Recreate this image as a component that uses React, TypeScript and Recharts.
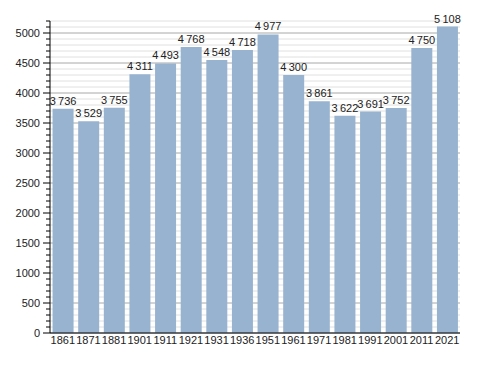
import React from 'react';
import { BarChart, Bar, XAxis, YAxis, CartesianGrid, LabelList } from 'recharts';

const years = ['1861', '1871', '1881', '1901', '1911', '1921', '1931', '1936', '1951', '1961', '1971', '1981', '1991', '2001', '2011', '2021'];
const population = [3736, 3529, 3755, 4311, 4493, 4768, 4548, 4718, 4977, 4300, 3861, 3622, 3691, 3752, 4750, 5108];
const yTicks = Array.from({ length: 53 }, (_, i) => i * 100);

const data = years.map((year, i) => ({ year, value: population[i] }));

const W = 488;
const H = 373;
const TOP = 21;
const BOTTOM = 333;
const Y_MAX = 5200;

const fmt = (v: number) => {
  const s = String(v);
  return s.length > 3 ? s.slice(0, s.length - 3) + '\u2009' + s.slice(-3) : s;
};

const GridLine = (props: any) => {
  const { x1, x2, y1 } = props;
  const v = Math.round(((BOTTOM - y1) / (BOTTOM - TOP)) * Y_MAX);
  const major = v % 500 === 0;
  return (
    <line
      key={props.key ?? y1}
      x1={x1}
      x2={x2}
      y1={y1}
      y2={y1}
      stroke={major ? '#a8a8a8' : '#e0e0e0'}
      strokeWidth={1}
    />
  );
};

const YTick = (props: any) => {
  const { x, y, payload } = props;
  const major = payload.value % 500 === 0;
  return (
    <g>
      <line x1={x - (major ? 7 : 4)} x2={x} y1={y} y2={y} stroke="#000" />
      {major && (
        <text x={x - 10} y={y} dy={4} textAnchor="end" fontSize={11} fill="#222">
          {payload.value}
        </text>
      )}
    </g>
  );
};

export default function App() {
  return (
    <div style={{ position: 'absolute', left: 0, top: 0, fontFamily: '"Liberation Sans", Arial, sans-serif' }}>
      <BarChart
        width={W}
        height={H}
        data={data}
        margin={{ top: TOP, right: 28, left: 0, bottom: 0 }}
        barCategoryGap="10%"
      >
        <CartesianGrid vertical={false} horizontal={GridLine} />
        <XAxis
          dataKey="year"
          height={40}
          tickLine={false}
          tickSize={0}
          tickMargin={3}
          axisLine={{ stroke: '#000' }}
          tick={{ fontSize: 11, fill: '#222' }}
          interval={0}
        />
        <YAxis
          width={50}
          domain={[0, Y_MAX]}
          ticks={yTicks}
          interval={0}
          tickLine={false}
          tickSize={0}
          tickMargin={0}
          axisLine={{ stroke: '#000' }}
          tick={<YTick />}
        />
        <Bar dataKey="value" fill="#98b3cf" isAnimationActive={false}>
          <LabelList dataKey="value" position="top" offset={4} formatter={(v: any) => fmt(Number(v))} style={{ fontSize: 11, fill: '#222' }} />
        </Bar>
      </BarChart>
    </div>
  );
}
